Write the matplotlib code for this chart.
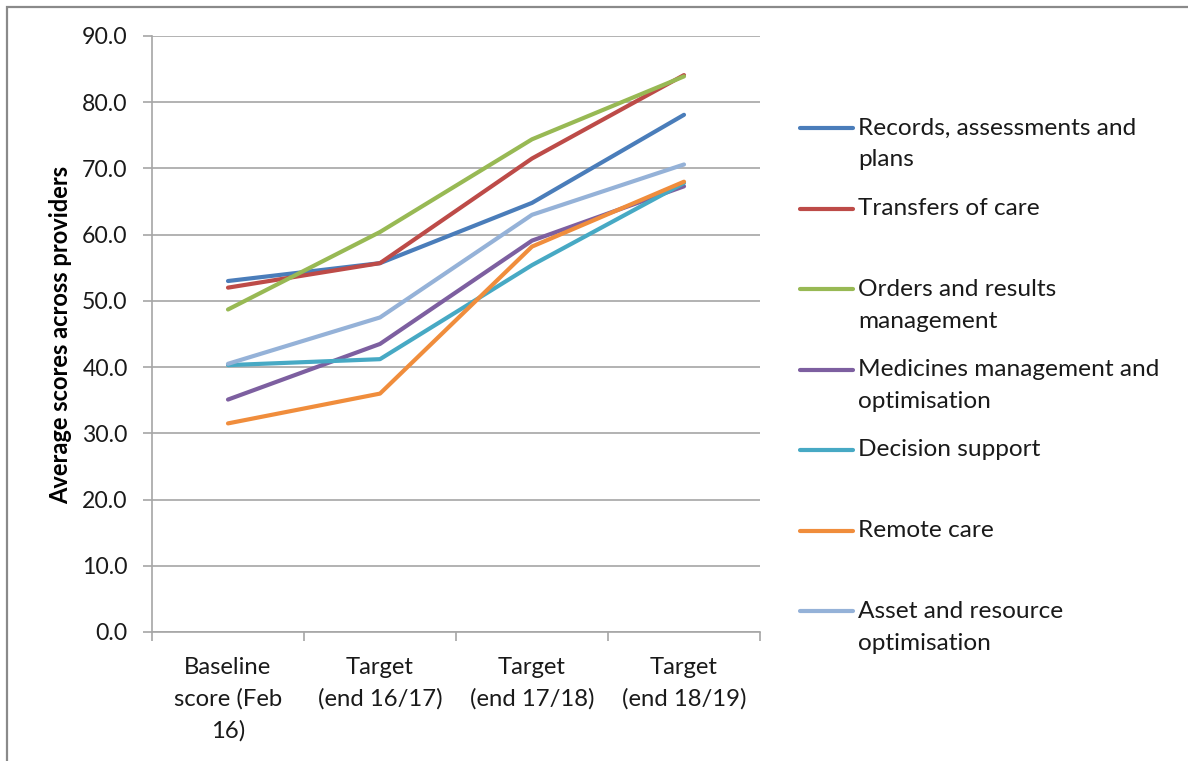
import matplotlib
matplotlib.use("Agg")
import matplotlib.pyplot as plt
from matplotlib.lines import Line2D
from matplotlib.patches import Rectangle

categories = ["Baseline\nscore (Feb\n16)", "Target\n(end 16/17)", "Target\n(end 17/18)", "Target\n(end 18/19)"]
series_names = ["Records, assessments and\nplans", "Transfers of care", "Orders and results\nmanagement",
                "Medicines management and\noptimisation", "Decision support", "Remote care",
                "Asset and resource\noptimisation"]
records = [53.0, 55.7, 64.8, 78.1]
transfers = [52.0, 55.7, 71.5, 84.1]
orders = [48.7, 60.4, 74.4, 83.9]
medicines = [35.1, 43.5, 59.1, 67.3]
decision = [40.3, 41.2, 55.4, 67.8]
remote = [31.5, 36.0, 58.2, 68.0]
asset = [40.5, 47.5, 63.0, 70.6]
series_values = [records, transfers, orders, medicines, decision, remote, asset]
colors = ["#4A7DBA", "#BD4B48", "#98B954", "#7D5FA0", "#47A9C4", "#F08D3C", "#95B2D8"]
yticks = [0, 10, 20, 30, 40, 50, 60, 70, 80, 90]

plt.rcParams['font.family'] = ['Lato', 'DejaVu Sans']
W, H = 1188, 761
FS = 17.2
TXT = "#1a1a1a"
fig = plt.figure(figsize=(W / 100, H / 100), dpi=100)
fig.add_artist(Rectangle((7 / W, -0.1), 1.2, 1 - 7 / H + 0.1, transform=fig.transFigure,
                         fill=False, edgecolor="#8A8A8A", linewidth=1.6))

ax = fig.add_axes([152 / W, 1 - 632 / H, (760 - 152) / W, (632 - 36) / H])
x = list(range(len(categories)))
for vals, c in zip(series_values, colors):
    ax.plot(x, vals, color=c, linewidth=3.0, solid_capstyle='round', solid_joinstyle='round', zorder=3)

ax.set_xlim(-0.5, len(categories) - 0.5)
ax.set_ylim(0, 90)
ax.set_yticks(yticks)
ax.set_yticklabels([f"{v:.1f}" for v in yticks], fontsize=16.6, color=TXT)
ax.yaxis.grid(True, color="#A6A6A6", linewidth=1.2)
ax.set_axisbelow(True)
ax.tick_params(axis='y', length=6.5, color="#A6A6A6", width=1.2, pad=11)

ax.set_xticks([i + 0.5 for i in range(-1, len(categories))], minor=False)
ax.set_xticklabels([])
ax.tick_params(axis='x', length=6.5, color="#A6A6A6", width=1.2)
ax.set_xticks(x, minor=True)
ax.tick_params(axis='x', which='minor', length=0)
ax.set_xticklabels([])
for s in ['top', 'right']:
    ax.spines[s].set_visible(False)
for s in ['left', 'bottom']:
    ax.spines[s].set_color("#A6A6A6")
    ax.spines[s].set_linewidth(1.2)

# category labels, each line centred 32 px apart, first line at y=667 px
xform = ax.get_xaxis_transform()
for i, cat in enumerate(categories):
    for k, line in enumerate(cat.split("\n")):
        ax.text(i, (632 - 667 - 32 * k) / (632 - 36), line, transform=xform, fontsize=FS, color=TXT,
                ha='center', va='center', clip_on=False)

fig.text(61 / W, 1 - 335 / H, "Average scores across providers", fontsize=17, fontweight='bold',
         rotation=90, ha='center', va='center', color="#000000")

# legend
y0 = 128
step = 80.5
for i, (name, c) in enumerate(zip(series_names, colors)):
    yy = 1 - (y0 + i * step) / H
    fig.add_artist(Line2D([800 / W, 853 / W], [yy, yy], transform=fig.transFigure,
                          color=c, linewidth=3.0, solid_capstyle='round'))
    for k, line in enumerate(name.split("\n")):
        fig.text(858 / W, yy - 32 * k / H, line, fontsize=17.6, color=TXT, va='center', ha='left')

fig.savefig("out.png", dpi=100)
